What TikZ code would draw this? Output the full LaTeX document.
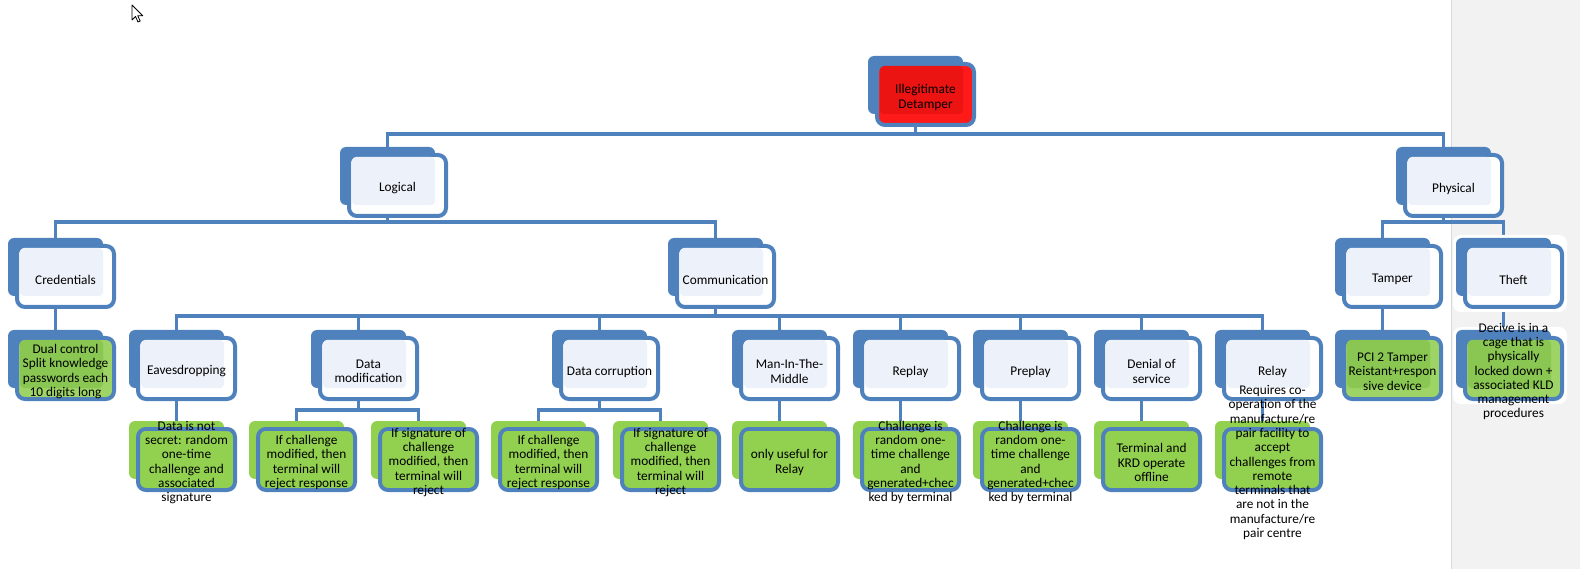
\documentclass[tikz,border=0pt]{standalone}
\usepackage{fontspec}
\setmainfont{Carlito}
\usetikzlibrary{positioning,backgrounds}

\definecolor{smblue}{HTML}{4F81BD}
\definecolor{smlight}{HTML}{EDF1F9}
\definecolor{smgreen}{HTML}{92D050}
\definecolor{smgreenlt}{HTML}{9DD465}
\definecolor{smgreendk}{HTML}{8AC752}
\definecolor{smred}{HTML}{FF1A1A}
\definecolor{smreddk}{HTML}{EC1313}
\definecolor{pagegray}{HTML}{F2F2F2}
\definecolor{pageline}{HTML}{D9D9D9}

\tikzset{
  backbox/.style={rounded corners=6pt, minimum width=95pt, minimum height=58pt, inner sep=0pt, outer sep=0pt, anchor=north west},
  frontbox/.style={draw=smblue, line width=4pt, rounded corners=8pt, minimum width=97pt, minimum height=61pt, inner sep=0pt, anchor=north west},
  midbox/.style={rounded corners=4pt, minimum width=83pt, minimum height=48pt, inner sep=0pt, outer sep=0pt, anchor=north west},
  boxtext/.style={align=center, inner sep=0pt, yshift=-3pt, font=\fontsize{13.3pt}{14.3pt}\selectfont},
  back-blu/.style={fill=smblue}, front-blu/.style={fill=white}, mid-blu/.style={fill=smlight},
  back-red/.style={fill=smblue}, front-red/.style={fill=smred}, mid-red/.style={fill=smreddk},
  back-pal/.style={fill=smblue}, front-pal/.style={fill=smgreenlt}, mid-pal/.style={fill=smgreendk},
  back-grn/.style={fill=smgreen}, front-grn/.style={fill=smgreen}, mid-grn/.style={fill=smgreen},
  conn/.style={draw=smblue, line width=3.5pt},
}

% one box of the chart: name, x, y (top left of the back shape), kind, text
\newcommand{\smbox}[5]{%
    \node[backbox, back-#4] (#1) at (#2,#3) {};
    \node[frontbox, front-#4] (#1-f) at (#2+7,#3+6) {};
    \node[midbox, mid-#4] (#1-m) at (#2+12,#3+10) {};
    \node[boxtext] (#1-t) at (#1-f.center) {#5};
}

\begin{document}
\begin{tikzpicture}[x=1pt, y=-1pt]
    \useasboundingbox (0,0) rectangle (1580,569);
    \begin{scope}[on background layer]
        \fill[pagegray] (1451,0) rectangle (1580,569);
        \draw[pageline, line width=1pt] (1451,0) -- (1451,569);
    \end{scope}

    % mouse pointer
    \draw[black, fill=white, line width=0.8pt, line join=round] (132,5) -- ++(0,15) -- ++(3.5,-3.5) -- ++(2.5,5.5) -- ++(2.2,-1) -- ++(-2.5,-5.3) -- ++(5,0) -- cycle;

    % white halo on the grey strip
    \fill[white, rounded corners=8pt] (1453,235) rectangle (1567,312);
    \fill[white, rounded corners=8pt] (1453,327) rectangle (1567,404);

    \smbox{root}{868}{56}{red}{Illegitimate\\Detamper}
    \smbox{log}{340}{147}{blu}{Logical}
    \smbox{phys}{1396}{147}{blu}{Physical}
    \smbox{cred}{8}{238}{blu}{Credentials}
    \smbox{comm}{668}{238}{blu}{Communication}
    \smbox{tamp}{1335}{238}{blu}{Tamper}
    \smbox{theft}{1456}{238}{blu}{Theft}
    \smbox{dual}{8}{330}{pal}{Dual control\\Split knowledge\\passwords each\\10 digits long}
    \smbox{eave}{129}{330}{blu}{Eavesdropping}
    \smbox{dmod}{311}{330}{blu}{Data\\modification}
    \smbox{dcor}{552}{330}{blu}{Data corruption}
    \smbox{mitm}{732}{330}{blu}{Man-In-The-\\Middle}
    \smbox{repl}{853}{330}{blu}{Replay}
    \smbox{prep}{973}{330}{blu}{Preplay}
    \smbox{dos}{1094}{330}{blu}{Denial of\\service}
    \smbox{rel}{1215}{330}{blu}{Relay}
    \smbox{tampl}{1335}{330}{pal}{PCI 2 Tamper\\Reistant+respon\\sive device}
    \smbox{theftl}{1456}{330}{pal}{Decive is in a\\cage that is\\physically\\locked down +\\associated KLD\\management\\procedures}
    \smbox{eavel}{129}{421}{grn}{Data is not\\secret: random\\one-time\\challenge and\\associated\\signature}
    \smbox{dmod1}{249}{421}{grn}{If challenge\\modified, then\\terminal will\\reject response}
    \smbox{dmod2}{371}{421}{grn}{If signature of\\challenge\\modified, then\\terminal will\\reject}
    \smbox{dcor1}{491}{421}{grn}{If challenge\\modified, then\\terminal will\\reject response}
    \smbox{dcor2}{613}{421}{grn}{If signature of\\challenge\\modified, then\\terminal will\\reject}
    \smbox{mitml}{732}{421}{grn}{only useful for\\Relay}
    \smbox{repll}{853}{421}{grn}{Challenge is\\random one-\\time challenge\\and\\generated+chec\\ked by terminal}
    \smbox{prepl}{973}{421}{grn}{Challenge is\\random one-\\time challenge\\and\\generated+chec\\ked by terminal}
    \smbox{dosl}{1094}{421}{grn}{Terminal and\\KRD operate\\offline}
    \smbox{rell}{1215}{421}{grn}{Requires co-\\operation of the\\manufacture/re\\pair facility to\\accept\\challenges from\\remote\\terminals that\\are not in the\\manufacture/re\\pair centre}

    % connectors
    \begin{scope}[on background layer]
        \foreach \p/\c/\g in {root/log/7, root/phys/7, log/cred/4, log/comm/4, phys/tamp/4, phys/theft/4,
            cred/dual/4, tamp/tampl/4, theft/theftl/4,
            comm/eave/7, comm/dmod/7, comm/dcor/7, comm/mitm/7, comm/repl/7, comm/prep/7, comm/dos/7, comm/rel/7,
            eave/eavel/8, dmod/dmod1/9, dmod/dmod2/9, dcor/dcor1/9, dcor/dcor2/9,
            mitm/mitml/8, repl/repll/8, prep/prepl/8, dos/dosl/8, rel/rell/8}
            \draw[conn] (\p-f.south -| \p.center) -- ++(0,\g) -| (\c.north);
    \end{scope}
\end{tikzpicture}
\end{document}
